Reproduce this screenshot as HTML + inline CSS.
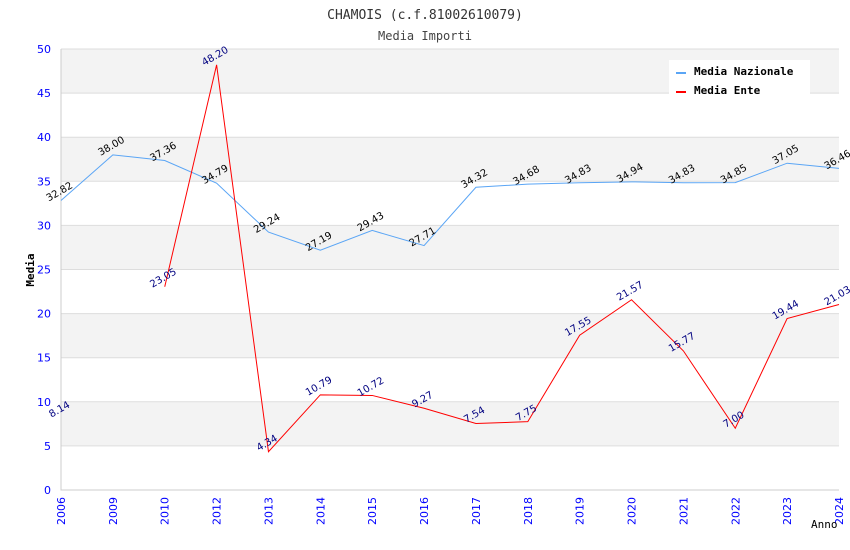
<!DOCTYPE html>
<html><head><meta charset="utf-8"><style>
body{margin:0;background:#fff}
svg{display:block}
</style></head><body>
<svg id="chart" width="850" height="550" xmlns="http://www.w3.org/2000/svg">
<text x="425" y="19" text-anchor="middle" font-family="DejaVu Sans Mono, monospace" font-size="13" fill="#333">CHAMOIS (c.f.81002610079)</text>
<text x="425" y="40" text-anchor="middle" font-family="DejaVu Sans Mono, monospace" font-size="12" fill="#444">Media Importi</text>
<g id="bands"></g><g id="grid"></g><g id="axes"></g><g id="series"></g><g id="labels"></g>
<text transform="translate(34,270) rotate(-90)" text-anchor="middle" font-family="DejaVu Sans Mono, monospace" font-size="11" font-weight="bold" fill="#000">Media</text>
<text x="811" y="528" font-family="DejaVu Sans Mono, monospace" font-size="11" fill="#000">Anno</text>
<g>
<rect x="669" y="60" width="141" height="36" fill="#fff"/>
<rect x="676" y="72" width="10" height="2" fill="#5aa5f5"/>
<text x="694" y="75" font-family="DejaVu Sans Mono, monospace" font-size="11" font-weight="bold">Media Nazionale</text>
<rect x="676" y="91" width="10" height="2" fill="#f00"/>
<text x="694" y="94" font-family="DejaVu Sans Mono, monospace" font-size="11" font-weight="bold">Media Ente</text>
</g>
</svg>
<script>
const categories=["2006","2009","2010","2012","2013","2014","2015","2016","2017","2018","2019","2020","2021","2022","2023","2024"];
const nazionale=[32.82,38.00,37.36,34.79,29.24,27.19,29.43,27.71,34.32,34.68,34.83,34.94,34.83,34.85,37.05,36.46];
const ente=[8.14,null,23.05,48.20,4.34,10.79,10.72,9.27,7.54,7.75,17.55,21.57,15.77,7.00,19.44,21.03];
const yTicks=[0,5,10,15,20,25,30,35,40,45,50];
const NS="http://www.w3.org/2000/svg";
const L=61,R=839,T=49,B=490;
const x=i=>L+i*(R-L)/(categories.length-1);
const y=v=>B-(v/50)*(B-T);
function mk(tag,attrs,parent,txt){const e=document.createElementNS(NS,tag);for(const k in attrs)e.setAttribute(k,attrs[k]);if(txt!=null)e.textContent=txt;document.getElementById(parent).appendChild(e);return e;}
for(let i=0;i<yTicks.length-1;i++){if(i%2==1){const r=mk('rect',{x:L,y:y(yTicks[i+1]),width:R-L,height:y(yTicks[i])-y(yTicks[i+1]),fill:'#f3f3f3'},'bands');

}}
yTicks.forEach(v=>{const l=mk('line',{x1:L,x2:R,y1:y(v),y2:y(v),stroke:'#ddd'},'grid');


const t=mk('text',{x:L-10,y:y(v)+4,'text-anchor':'end','font-family':'DejaVu Sans, sans-serif','font-size':11,fill:'#00f'},'axes',String(v));

});
const ax=mk('path',{d:`M${L},${T}V${B}H${R}`,stroke:'#ccc',fill:'none'},'axes');


categories.forEach((c,i)=>{const t=mk('text',{transform:`translate(${x(i)+4},${B+7}) rotate(-90)`,'text-anchor':'end','font-family':'DejaVu Sans, sans-serif','font-size':11,fill:'#00f'},'axes',c);

});
function series(vals,color,lblColor,name){let d='',pen=false;vals.forEach((v,i)=>{if(v==null){pen=false;return;}d+=(pen?'L':'M')+x(i)+','+y(v);pen=true;});
const p=mk('path',{d:d,stroke:color,fill:'none','stroke-width':1},'series');


vals.forEach((v,i)=>{if(v==null)return;const t=mk('text',{transform:`translate(${x(i)},${y(v)-6}) rotate(-30)`,'text-anchor':'middle','font-family':'DejaVu Sans, sans-serif','font-size':10,fill:lblColor},'labels',v.toFixed(2));

});}
series(nazionale,'#5aa5f5','#000','nazionale');
series(ente,'#f00','#000080','ente');
</script>
</body></html>
